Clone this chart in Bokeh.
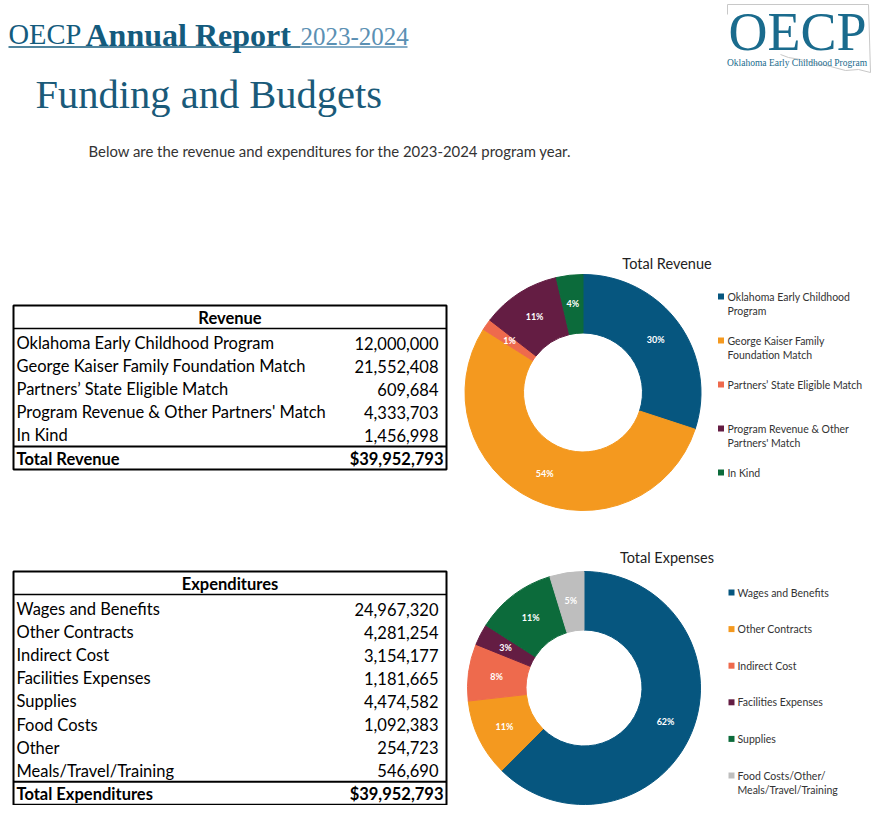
import math
from bokeh.plotting import figure
from bokeh.models import Range1d, ColumnDataSource
from bokeh.embed import file_html
from bokeh.resources import INLINE
from bokeh.core.properties import value

# ---------------- data ----------------
rev_categories = ["Oklahoma Early Childhood Program", "George Kaiser Family Foundation Match",
                  "Partners\u2019 State Eligible Match", "Program Revenue & Other Partners' Match", "In Kind"]
rev_values = [12000000, 21552408, 609684, 4333703, 1456998]
rev_total = 39952793
rev_legend = ["Oklahoma Early Childhood\nProgram", "George Kaiser Family\nFoundation Match",
              "Partners\u2019 State Eligible Match", "Program Revenue & Other\nPartners' Match", "In Kind"]
rev_pct_labels = ["30%", "54%", "1%", "11%", "4%"]

exp_categories = ["Wages and Benefits", "Other Contracts", "Indirect Cost", "Facilities Expenses",
                  "Supplies", "Food Costs", "Other", "Meals/Travel/Training"]
exp_values = [24967320, 4281254, 3154177, 1181665, 4474582, 1092383, 254723, 546690]
exp_total = 39952793
exp_legend = ["Wages and Benefits", "Other Contracts", "Indirect Cost", "Facilities Expenses",
              "Supplies", "Food Costs/Other/\nMeals/Travel/Training"]
exp_pie_values = exp_values[:5] + [sum(exp_values[5:])]
exp_pct_labels = ["62%", "11%", "8%", "3%", "11%", "5%"]

rev_colors = ["#06567F", "#F4991F", "#EE6A4D", "#641D43", "#0C6B3B"]
exp_colors = ["#06567F", "#F4991F", "#EE6A4D", "#641D43", "#0C6B3B", "#BEBEBE"]

# ---------------- figure ----------------
W, H = 873, 805
p = figure(width=W, height=H, output_backend="svg", toolbar_location=None,
           x_range=Range1d(0, W), y_range=Range1d(0, H))
p.min_border = 0
p.axis.visible = False
p.grid.visible = False
p.outline_line_color = None
p.background_fill_color = "white"
p.border_fill_color = "white"


def Y(img_y):
    return H - img_y


SANS = value("Lato")
SERIF = value("Liberation Serif")

# ---------------- header ----------------
p.text(x=[8], y=[Y(34)], text=["OECP"], text_font=SERIF, text_font_size="28.5px",
       text_color="#145B7D", text_baseline="middle")
p.text(x=[85], y=[Y(34)], text=["Annual Report"], text_font=SERIF, text_font_size="32px",
       text_font_style="bold", text_color="#145B7D", text_baseline="middle")
p.text(x=[300], y=[Y(36)], text=["2023-2024"], text_font=SERIF, text_font_size="25px",
       text_color="#5B90B3", text_baseline="middle")
p.segment(x0=[8], y0=[Y(46.5)], x1=[300], y1=[Y(46.5)], line_color="#145B7D", line_width=1.3)
p.segment(x0=[300], y0=[Y(46.5)], x1=[407], y1=[Y(46.5)], line_color="#5B90B3", line_width=1.3)

p.text(x=[35], y=[Y(94)], text=["Funding and Budgets"], text_font=SERIF, text_font_size="40.5px",
       text_color="#1A5A79", text_baseline="middle")
p.text(x=[88], y=[Y(150)], text=["Below are the revenue and expenditures for the 2023-2024 program year."],
       text_font=SANS, text_font_size="14.9px", text_color="#333333", text_baseline="middle")

# logo
p.multi_line(xs=[[727, 727, 868, 870], [870, 858, 845, 830, 815, 800, 788, 780]],
             ys=[[Y(14), Y(4), Y(4), Y(72)], [Y(72), Y(69), Y(70), Y(66), Y(63), Y(59), Y(57), Y(54)]],
             line_color="#C8C8C8", line_width=1)
p.text(x=[728], y=[Y(31)], text=["OECP"], text_font=SERIF, text_font_size="54px",
       text_color="#1A6B8D", text_baseline="middle")
p.text(x=[796.5], y=[Y(62.5)], text=["Oklahoma Early Childhood Program"], text_font=SERIF,
       text_font_size="9.5px", text_color="#1A6B8D", text_baseline="middle", text_align="center")


# ---------------- tables ----------------
def draw_table(top, header, cats, vals, total_label, total_value):
    left, right = 13, 446
    step = 23.1
    header_line = top + 23
    row0 = header_line + 14.5
    n = len(cats)
    total_line = row0 + n * step - 12
    bottom = total_line + 23
    p.quad(left=[left], right=[right], top=[Y(top)], bottom=[Y(bottom)],
           fill_color=None, line_color="black", line_width=2)
    p.segment(x0=[left, left], x1=[right, right], y0=[Y(header_line), Y(total_line)],
              y1=[Y(header_line), Y(total_line)], line_color="black", line_width=[1.5, 2])
    p.text(x=[(left + right) / 2], y=[Y(top + 12)], text=[header], text_font=SANS,
           text_font_size="16.5px", text_font_style="bold", text_color="black",
           text_align="center", text_baseline="middle")
    ys = [Y(row0 + i * step) for i in range(n)]
    src = ColumnDataSource(dict(y=ys, cat=cats, val=[f"{v:,}" for v in vals]))
    p.text(x=left + 3, y="y", text="cat", source=src, text_font=SANS, text_font_size="16.5px",
           text_color="black", text_baseline="middle")
    p.text(x=right - 8, y="y", text="val", source=src, text_font=SANS, text_font_size="16.5px",
           text_color="black", text_baseline="middle", text_align="right")
    p.text(x=[left + 3], y=[Y(total_line + 12.5)], text=[total_label], text_font=SANS,
           text_font_size="16.5px", text_font_style="bold", text_color="black", text_baseline="middle")
    p.text(x=[right - 3], y=[Y(total_line + 12.5)], text=[f"${total_value:,}"], text_font=SANS,
           text_font_size="16.5px", text_font_style="bold", text_color="black",
           text_baseline="middle", text_align="right")


draw_table(305, "Revenue", rev_categories, rev_values, "Total Revenue", rev_total)
draw_table(571, "Expenditures", exp_categories, exp_values, "Total Expenditures", exp_total)


# ---------------- donuts ----------------
def draw_donut(cx, cy_img, R, r, vals, colors, labels, title, title_y):
    cy = Y(cy_img)
    tot = float(sum(vals))
    cum = 0.0
    starts, ends, lx, ly = [], [], [], []
    rm = (R + r) / 2 + 1
    for v in vals:
        a0 = cum / tot
        a1 = (cum + v) / tot
        starts.append(math.pi / 2 - 2 * math.pi * a1)
        ends.append(math.pi / 2 - 2 * math.pi * a0)
        mid = math.pi / 2 - math.pi * (a0 + a1)
        lx.append(cx + rm * math.cos(mid))
        ly.append(cy + rm * math.sin(mid))
        cum += v
    src = ColumnDataSource(dict(s=starts, e=ends, c=colors, lx=lx, ly=ly, lab=labels))
    p.annular_wedge(x=cx, y=cy, inner_radius=r, outer_radius=R, start_angle="s", end_angle="e",
                    fill_color="c", line_color="c", line_width=1, source=src)
    p.text(x="lx", y="ly", text="lab", source=src, text_font=SANS, text_font_size="9px",
           text_font_style="bold", text_color="white", text_align="center", text_baseline="middle")
    p.text(x=[666.5], y=[Y(title_y)], text=[title], text_font=SANS, text_font_size="14.5px",
           text_color="#222222", text_align="center", text_baseline="middle")


draw_donut(582.5, 392, 118, 59.5, rev_values, rev_colors, rev_pct_labels, "Total Revenue", 263)
draw_donut(583.5, 687.5, 116.5, 58, exp_pie_values, exp_colors, exp_pct_labels, "Total Expenses", 557)


# ---------------- legends ----------------
def draw_legend(sq_x, txt_x, y0, dy, entries, colors):
    sx, sy, tx, ty, tt = [], [], [], [], []
    for i, (e, c) in enumerate(zip(entries, colors)):
        yy = y0 + i * dy
        sx.append(sq_x)
        sy.append(Y(yy))
        for j, line in enumerate(e.split("\n")):
            tx.append(txt_x)
            ty.append(Y(yy + j * 14))
            tt.append(line)
    p.rect(x=sx, y=sy, width=6, height=6, fill_color=colors, line_color=None)
    p.text(x=tx, y=ty, text=tt, text_font=SANS, text_font_size="10.5px", text_color="#333333",
           text_baseline="middle")


draw_legend(720.5, 727, 296, 44, rev_legend, rev_colors)
draw_legend(731, 737, 592, 36.6, exp_legend, exp_colors)

open("out.html", "w").write(file_html(p, INLINE))
